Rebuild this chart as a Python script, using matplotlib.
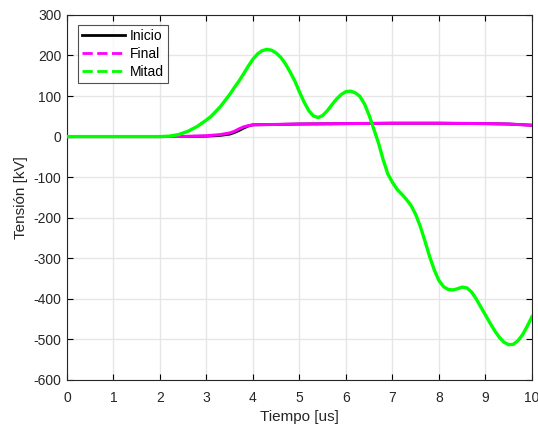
import matplotlib
matplotlib.use("Agg")
import matplotlib.pyplot as plt
from matplotlib.lines import Line2D

# Data (time in us, voltage in kV)
t_mitad = [0, 1, 2.0, 2.2, 2.4, 2.6, 2.8, 3.0, 3.1, 3.2, 3.3, 3.4, 3.5, 3.6, 3.7, 3.8, 3.9,
           4.0, 4.1, 4.2, 4.3, 4.4, 4.5, 4.6, 4.7, 4.8, 4.9, 5.0, 5.1, 5.2, 5.3, 5.4, 5.5,
           5.6, 5.7, 5.8, 5.9, 6.0, 6.1, 6.2, 6.3, 6.4, 6.5, 6.6, 6.7, 6.8, 6.9, 7.0, 7.1,
           7.2, 7.3, 7.4, 7.5, 7.6, 7.7, 7.8, 7.9, 8.0, 8.1, 8.2, 8.3, 8.4, 8.5, 8.6, 8.7,
           8.8, 8.9, 9.0, 9.1, 9.2, 9.3, 9.4, 9.5, 9.6, 9.7, 9.8, 9.9, 10.0]
v_mitad = [0, 0, 0, 1, 5, 13, 25, 41, 50, 62, 74, 89, 104, 121, 137, 155, 174,
           191, 204, 212, 215, 213, 206, 195, 179, 159, 137, 110, 85, 64, 51, 47, 52,
           64, 79, 93, 104, 111, 112, 108, 99, 80, 52, 18, -16, -57, -92, -113, -130,
           -142, -155, -170, -192, -222, -258, -296, -329, -355, -370, -377, -378, -375, -371, -373, -383,
           -400, -420, -440, -460, -479, -495, -507, -513, -512, -503, -488, -467, -444]

t_final = [0, 2, 2.5, 3, 3.3, 3.5, 3.6, 3.7, 3.8, 3.9, 4, 4.5, 5, 6, 7, 8, 9, 9.5, 10]
v_final = [0, 0, 0.5, 2, 5, 9, 13, 19, 24, 27, 29, 30, 31, 32, 33, 33, 32, 31, 28]

t_inicio = [0, 2, 2.5, 3, 3.3, 3.5, 3.6, 3.7, 3.8, 3.9, 4, 4.5, 5, 6, 7, 8, 9, 9.5, 10]
v_inicio = [0, 0, 0.3, 1, 3, 6, 10, 15, 21, 26, 29, 30, 31, 32, 33, 33, 32, 31, 28]

x_ticks = list(range(0, 11))
y_ticks = list(range(-600, 301, 100))

plt.rcParams['font.family'] = ['Liberation Sans', 'DejaVu Sans']
plt.rcParams['axes.unicode_minus'] = False

fig = plt.figure(figsize=(5.38, 4.26), dpi=100)
ax = fig.add_axes([0.1245, 0.108, 0.8643, 0.857])

ax.plot(t_inicio, v_inicio, color='black', lw=2.0, zorder=3, solid_joinstyle='round')
ax.plot(t_final, v_final, color='#ff00ff', lw=2.2, zorder=4, solid_joinstyle='round')
ax.plot(t_mitad, v_mitad, color='#00ff00', lw=2.4, zorder=5, solid_joinstyle='round')

ax.set_xlim(0, 10)
ax.set_ylim(-600, 300)
ax.set_xticks(x_ticks)
ax.set_yticks(y_ticks)
ax.grid(True, color='#e6e6e6', lw=1.0)
ax.set_axisbelow(True)
ax.tick_params(direction='in', top=True, right=True, labelsize=10, length=4, width=0.8,
               labelcolor='#262626')
ax.tick_params(axis='x', pad=8)
ax.tick_params(axis='y', pad=4)
for s in ax.spines.values():
    s.set_color('#262626')
    s.set_linewidth(0.8)

ax.set_xlabel('Tiempo [us]', fontsize=11, labelpad=3.5, color='#262626')
ax.set_ylabel('Tensión [kV]', fontsize=11, labelpad=4, color='#262626')

handles = [Line2D([], [], color='black', lw=2.0),
           Line2D([], [], color='#ff00ff', lw=2.0, ls='--'),
           Line2D([], [], color='#00ff00', lw=2.0, ls='--')]
leg = ax.legend(handles, ['Inicio', 'Final', 'Mitad'], loc='upper left',
                bbox_to_anchor=(0.0237, 0.973), fontsize=10, frameon=True, fancybox=False,
                edgecolor='#262626', handlelength=3.1, handletextpad=0.3,
                borderpad=0.3, labelspacing=0.3, borderaxespad=0)
leg.get_frame().set_linewidth(0.8)

fig.savefig('out.png', dpi=100)
